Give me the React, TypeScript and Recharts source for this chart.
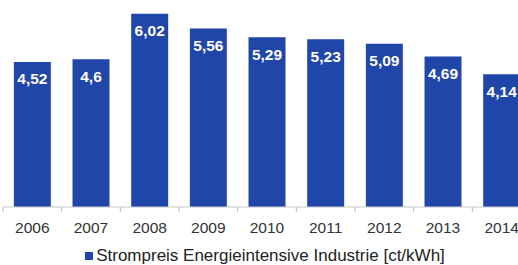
import React from 'react';
import { BarChart, Bar, XAxis, YAxis, Legend, LabelList } from 'recharts';

const years = ['2006', '2007', '2008', '2009', '2010', '2011', '2012', '2013', '2014'];
const prices = [4.52, 4.6, 6.02, 5.56, 5.29, 5.23, 5.09, 4.69, 4.14];
const seriesName = 'Strompreis Energieintensive Industrie [ct/kWh]';

const data = years.map((y, i) => ({ year: y, value: prices[i] }));

const CHART_W = 540;
const CHART_H = 265;
const MARGIN = { top: 0, right: 9, left: 3, bottom: 4 };
const BAND = (CHART_W - MARGIN.left - MARGIN.right) / years.length;
const BLUE = '#1f46a8';
const FONT = 'Liberation Sans, Arial, sans-serif';

const fmt = (v: number) => String(v).replace('.', ',');

const Tick = (props: any) => {
  const { x, y, payload, index } = props;
  const left = x - BAND / 2;
  const axisY = y - 8;
  return (
    <g>
      <line x1={left} y1={axisY} x2={left} y2={axisY + 5} stroke="#b8b8b8" strokeWidth={1} />
      {index === years.length - 1 && (
        <line x1={left + BAND} y1={axisY} x2={left + BAND} y2={axisY + 5} stroke="#b8b8b8" strokeWidth={1} />
      )}
      <text x={x} y={axisY + 20} textAnchor="middle" dominantBaseline="central" fill="#333" fontSize={15.5} fontFamily={FONT}>
        {payload.value}
      </text>
    </g>
  );
};

const ValueLabel = (props: any) => {
  const { x, y, width, value } = props;
  return (
    <text x={x + width / 2} y={y + 17} textAnchor="middle" dominantBaseline="central" fill="#ffffff" fontSize={15.5} fontWeight="bold" fontFamily={FONT}>
      {fmt(value)}
    </text>
  );
};

const LegendContent = () => (
  <div style={{ display: 'flex', justifyContent: 'center', alignItems: 'center', height: 22, fontFamily: FONT, fontSize: 17, color: '#222', paddingRight: 4 }}>
    <span style={{ display: 'inline-block', width: 8, height: 8, background: BLUE, marginRight: 3 }} />
    <span>{seriesName}</span>
  </div>
);

export default function App() {
  return (
    <div style={{ position: 'absolute', left: 0, top: 0, width: 518, height: 265, overflow: 'hidden', background: '#fff' }}>
      <BarChart width={CHART_W} height={CHART_H} data={data} margin={MARGIN} barCategoryGap="18.5%">
        <XAxis dataKey="year" height={32} tick={<Tick />} tickLine={false} axisLine={{ stroke: '#c8c8c8' }} interval={0} />
        <YAxis hide domain={[0, 6.45]} />
        <Legend verticalAlign="bottom" content={<LegendContent />} wrapperStyle={{ height: 22, top: 245 }} />
        <Bar dataKey="value" name={seriesName} fill={BLUE} isAnimationActive={false}>
          <LabelList dataKey="value" content={<ValueLabel />} />
        </Bar>
      </BarChart>
    </div>
  );
}
